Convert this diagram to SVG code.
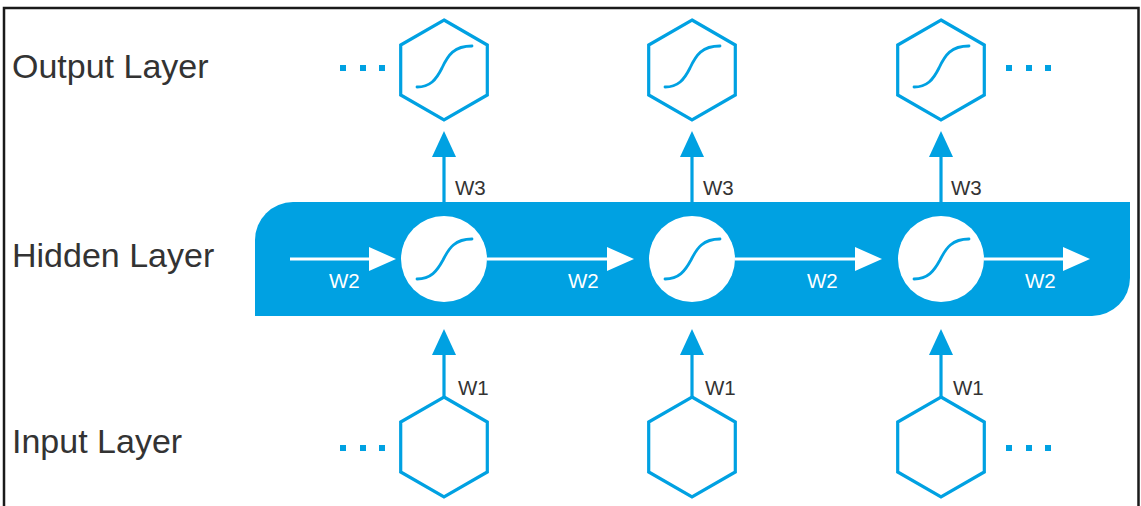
<svg xmlns="http://www.w3.org/2000/svg" width="1141" height="506" viewBox="0 0 1141 506">
  <style>
    .frame { fill: none; stroke: #1a1a1a; stroke-width: 2.5; }
    .layer { font-family: "Liberation Sans", Arial, sans-serif; font-size: 34px; fill: #333333; }
    .w { font-family: "Liberation Sans", Arial, sans-serif; font-size: 20.5px; }
    .wdark { fill: #333333; }
    .wlight { fill: #ffffff; }
    .hex { fill: #ffffff; stroke: #00a1e2; stroke-width: 3.2; stroke-linejoin: miter; }
    .sig { fill: none; stroke: #00a1e2; stroke-width: 2.8; stroke-linecap: round; }
    .cell { fill: #ffffff; }
    .band { fill: #00a1e2; }
    .up { stroke: #00a1e2; stroke-width: 3.2; fill: none; marker-end: url(#headBlue); }
    .side { stroke: #ffffff; stroke-width: 3.2; fill: none; marker-end: url(#headWhite); }
    .dot { fill: #00a1e2; }
  </style>
  <defs>
    <marker id="headBlue" markerUnits="userSpaceOnUse" markerWidth="27" markerHeight="25" refX="6" refY="12" orient="auto">
      <path d="M0,0 L26,12 L0,24 Z" fill="#00a1e2"/>
    </marker>
    <marker id="headWhite" markerUnits="userSpaceOnUse" markerWidth="28" markerHeight="25" refX="6" refY="12" orient="auto">
      <path d="M0,0 L27,12 L0,24 Z" fill="#ffffff"/>
    </marker>
    <polygon id="hexShape" points="0,-50 43.3,-25 43.3,25 0,50 -43.3,25 -43.3,-25"/>
    <path id="sigHex" d="M-27,17 C-14,17 -8,10 -2,-2 C4,-15 10,-24 28,-24"/>
    <path id="sigCell" d="M-27,20 C-13,20 -7,12 -1,1 C5,-11 11,-20 28,-20"/>
    <g id="dots">
      <rect x="-3" y="-3" width="6" height="6"/>
      <rect x="17" y="-3" width="6" height="6"/>
      <rect x="36" y="-3" width="6" height="6"/>
    </g>
  </defs>

  <rect width="1141" height="506" fill="#ffffff"/>
  <path class="frame" d="M4,506 V8 H1138.5 V506"/>

  <!-- row titles -->
  <g id="labels">
    <text class="layer" x="12" y="78">Output Layer</text>
    <text class="layer" x="12" y="267">Hidden Layer</text>
    <text class="layer" x="12" y="453">Input Layer</text>
  </g>

  <!-- hidden layer band -->
  <path class="band" d="M255,316 V240 A38,38 0 0 1 293,202 H1130 V278 A38,38 0 0 1 1092,316 Z"/>

  <!-- continuation dots -->
  <g id="ellipsis" class="dot">
    <use href="#dots" x="343" y="68"/>
    <use href="#dots" x="1009" y="68"/>
    <use href="#dots" x="343" y="448"/>
    <use href="#dots" x="1009" y="448"/>
  </g>

  <!-- connectors -->
  <g id="connectors">
    <line class="up" x1="444" y1="202" x2="444" y2="151"/>
    <line class="up" x1="692" y1="202" x2="692" y2="151"/>
    <line class="up" x1="941" y1="202" x2="941" y2="151"/>
    <line class="up" x1="444" y1="397" x2="444" y2="349"/>
    <line class="up" x1="692" y1="397" x2="692" y2="349"/>
    <line class="up" x1="941" y1="397" x2="941" y2="349"/>
    <line class="side" x1="290" y1="259" x2="375" y2="259"/>
    <line class="side" x1="487" y1="259" x2="613" y2="259"/>
    <line class="side" x1="735" y1="259" x2="861" y2="259"/>
    <line class="side" x1="984" y1="259" x2="1069" y2="259"/>
    <text class="w wdark" x="455" y="195">W3</text>
    <text class="w wdark" x="703" y="195">W3</text>
    <text class="w wdark" x="951" y="195">W3</text>
    <text class="w wdark" x="458" y="395">W1</text>
    <text class="w wdark" x="705" y="395">W1</text>
    <text class="w wdark" x="953" y="395">W1</text>
    <text class="w wlight" x="329" y="288">W2</text>
    <text class="w wlight" x="568" y="288">W2</text>
    <text class="w wlight" x="807" y="288">W2</text>
    <text class="w wlight" x="1025" y="288">W2</text>
  </g>

  <!-- output nodes -->
  <g id="out1" transform="translate(444,70)"><use href="#hexShape" class="hex"/><use href="#sigHex" class="sig"/></g>
  <g id="out2" transform="translate(692,70)"><use href="#hexShape" class="hex"/><use href="#sigHex" class="sig"/></g>
  <g id="out3" transform="translate(941,70)"><use href="#hexShape" class="hex"/><use href="#sigHex" class="sig"/></g>

  <!-- hidden nodes -->
  <g id="hid1" transform="translate(444,259)"><circle class="cell" r="43"/><use href="#sigCell" class="sig"/></g>
  <g id="hid2" transform="translate(692,259)"><circle class="cell" r="43"/><use href="#sigCell" class="sig"/></g>
  <g id="hid3" transform="translate(941,259)"><circle class="cell" r="43"/><use href="#sigCell" class="sig"/></g>

  <!-- input nodes -->
  <g id="in1" transform="translate(444,447)"><use href="#hexShape" class="hex"/></g>
  <g id="in2" transform="translate(692,447)"><use href="#hexShape" class="hex"/></g>
  <g id="in3" transform="translate(941,447)"><use href="#hexShape" class="hex"/></g>
</svg>
